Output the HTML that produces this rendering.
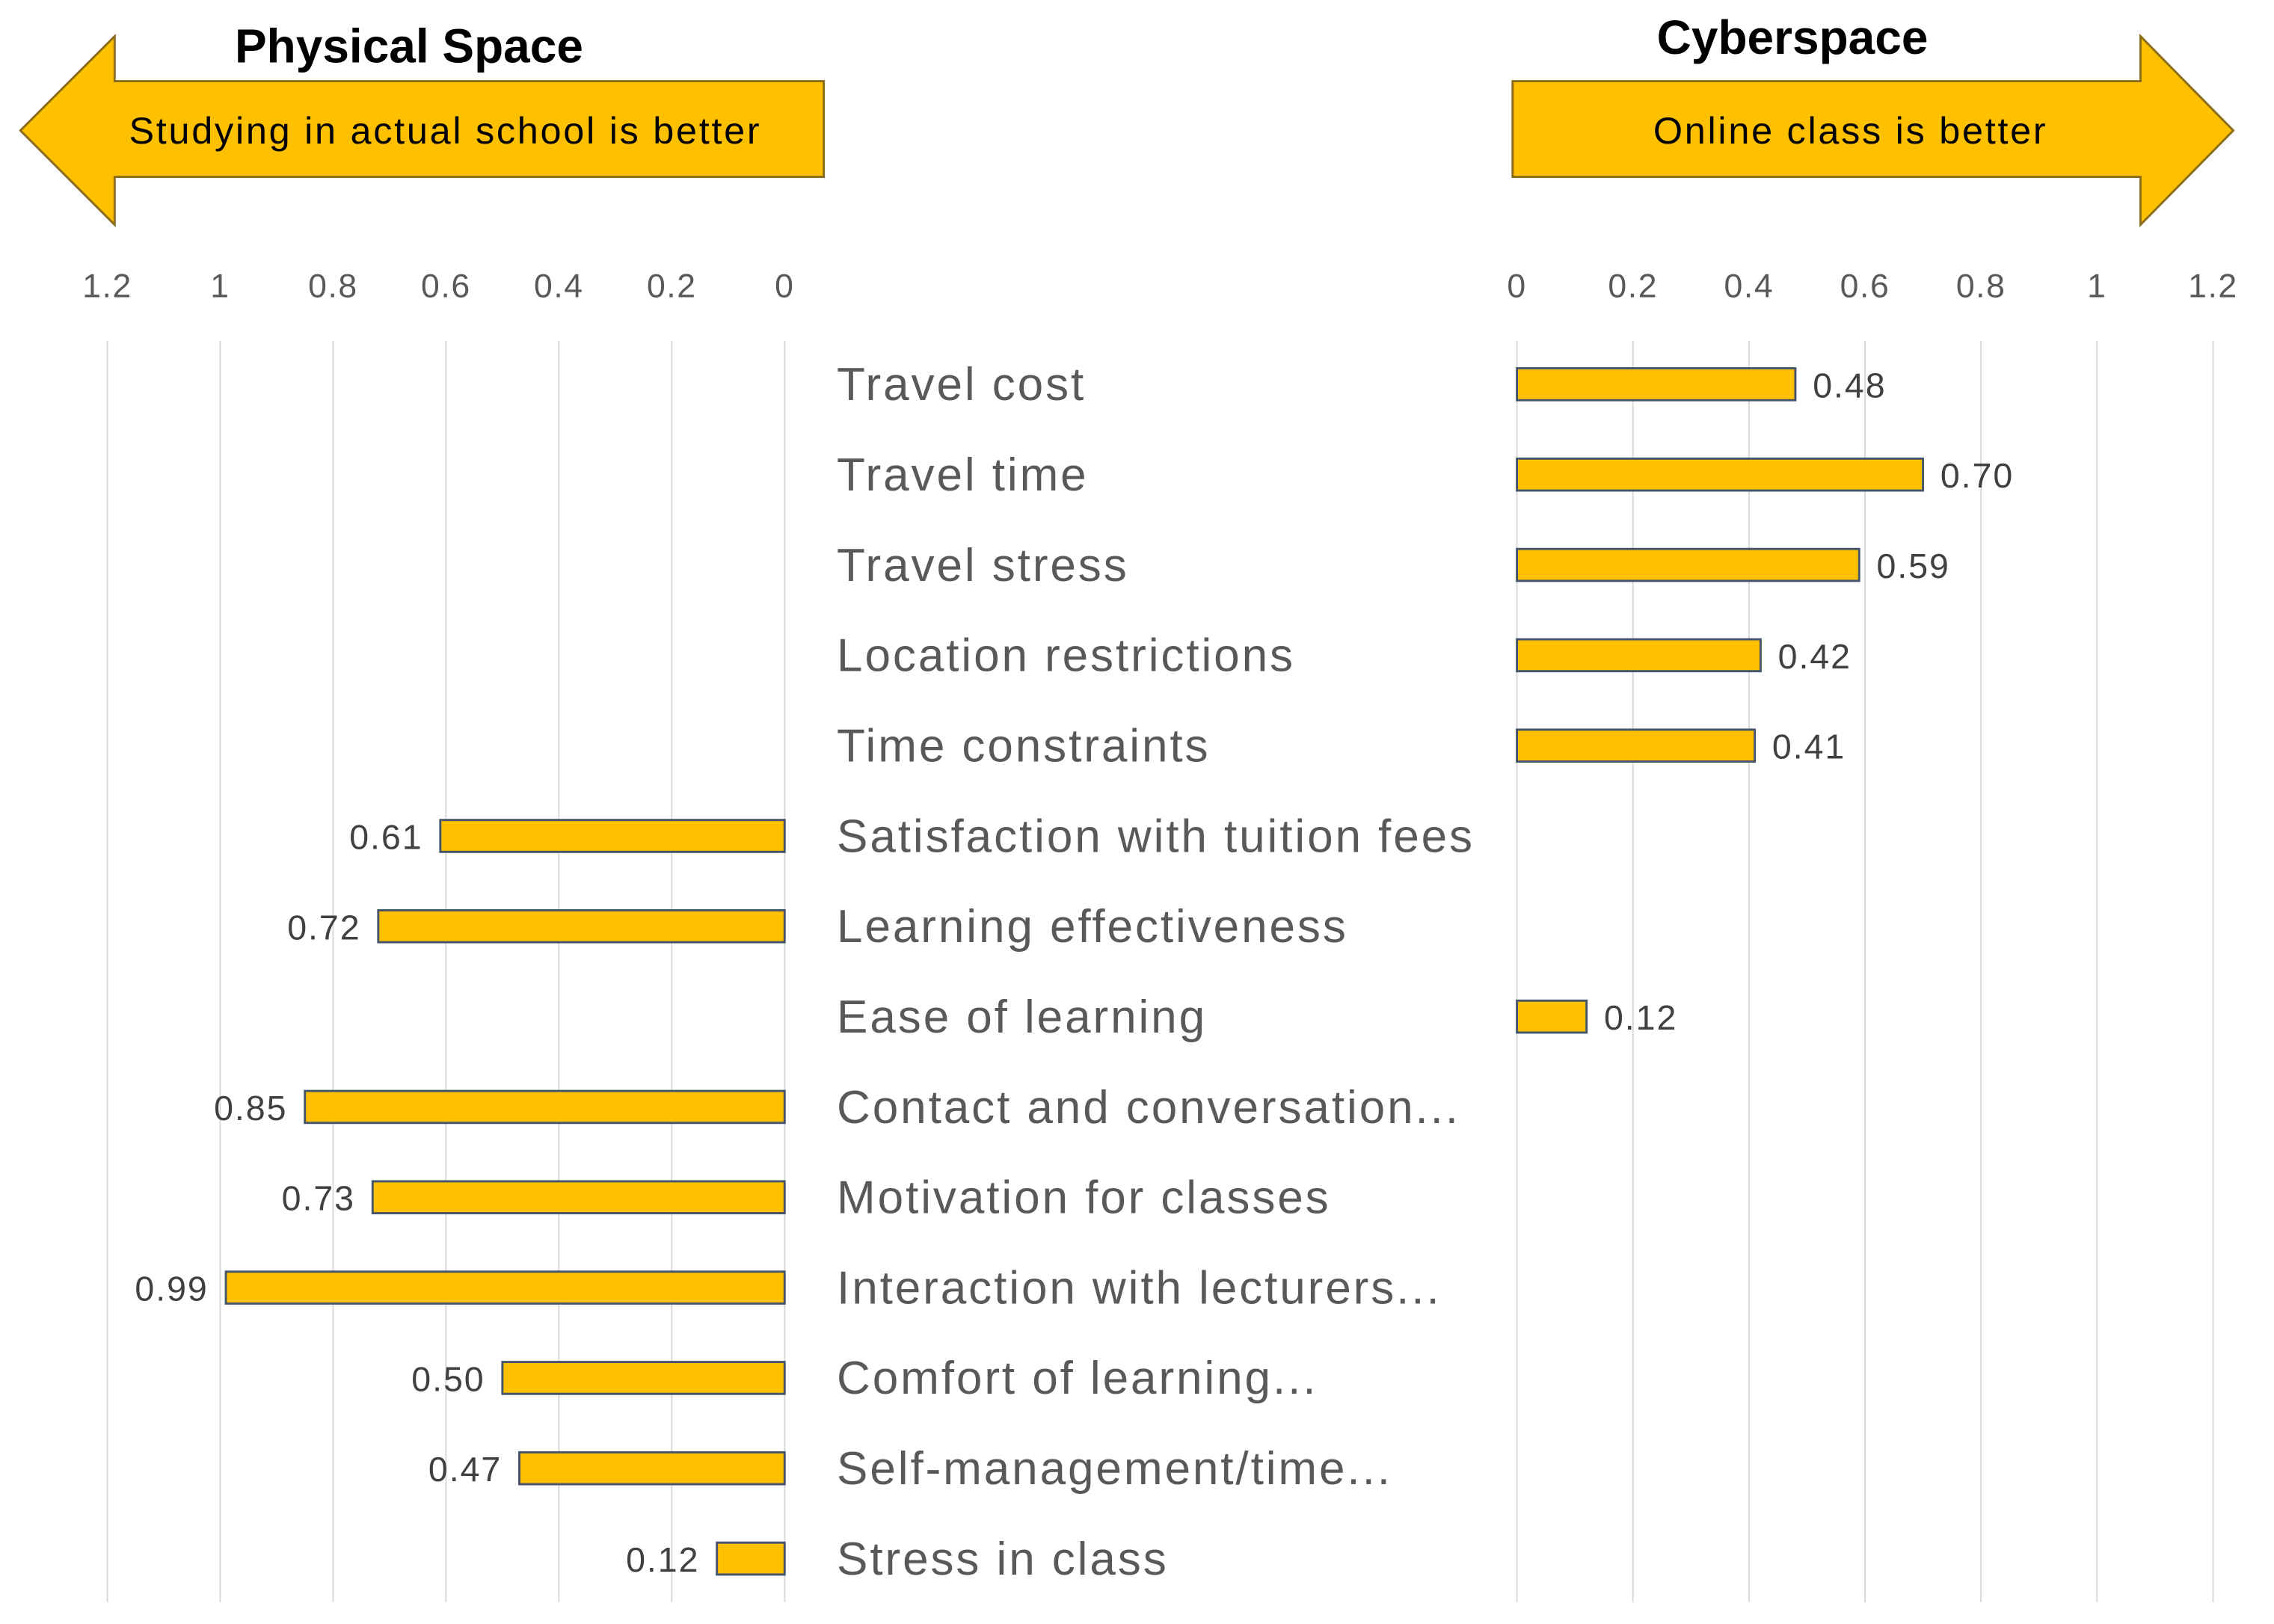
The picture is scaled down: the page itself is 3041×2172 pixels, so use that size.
<!DOCTYPE html>
<html><head><meta charset="utf-8"><style>
html,body{margin:0;padding:0;background:#fff}
svg{display:block}
text{font-family:"Liberation Sans",sans-serif}
</style></head><body>
<svg id="chart" width="3041" height="2172" viewBox="0 0 1568 1120" xmlns="http://www.w3.org/2000/svg">
<g>
<polygon points="14,90 79,25 79,56 568,56 568,122 79,122 79,155" fill="#FFC000" stroke="#8a6d1a" stroke-width="1.5"/>
<text x="282" y="43" text-anchor="middle" font-size="33" font-weight="bold" fill="#000">Physical Space</text>
<text x="307" y="99" text-anchor="middle" font-size="26" letter-spacing="1.4" fill="#000">Studying in actual school is better</text>
</g>
<g>
<polygon points="1043,56 1476,56 1476,25 1540,90 1476,155 1476,122 1043,122" fill="#FFC000" stroke="#8a6d1a" stroke-width="1.5"/>
<text x="1236" y="37" text-anchor="middle" font-size="33" font-weight="bold" fill="#000">Cyberspace</text>
<text x="1276" y="99" text-anchor="middle" font-size="26" letter-spacing="1.4" fill="#000">Online class is better</text>
</g>
<g id="grid"></g><g id="bars"></g><g id="labels"></g>
</svg>
<script>
const categories=["Travel cost","Travel time","Travel stress","Location restrictions","Time constraints","Satisfaction with tuition fees","Learning effectiveness","Ease of learning","Contact and conversation...","Motivation for classes","Interaction with lecturers...","Comfort of learning...","Self-management/time...","Stress in class"];
const physicalValues=[null,null,null,null,null,0.61,0.72,null,0.85,0.73,0.99,0.50,0.47,0.12];
const cyberValues=[0.48,0.70,0.59,0.42,0.41,null,null,0.12,null,null,null,null,null,null];
const ticks=[0,0.2,0.4,0.6,0.8,1,1.2];
const tickLabels=["0","0.2","0.4","0.6","0.8","1","1.2"];
const NS="http://www.w3.org/2000/svg";
const xL=v=>541-v*389.2, xR=v=>1046+v*400;
const yRow=i=>265+i*62.3;
function mk(tag,attrs,parent,txt){const e=document.createElementNS(NS,tag);for(const k in attrs)e.setAttribute(k,attrs[k]);if(txt!==undefined)e.textContent=txt;document.getElementById(parent).appendChild(e);return e;}
ticks.forEach((t,i)=>{
 [xL,xR].forEach((f,s)=>{
  const l=mk('line',{x1:f(t),x2:f(t),y1:235,y2:1105,stroke:'#d9d9d9','stroke-width':1},'grid');
  
  
  const tx=mk('text',{x:f(t),y:205,'text-anchor':'middle','font-size':23,'letter-spacing':0.8,fill:'#595959'},'grid',tickLabels[i]);
  
  
 });
});
categories.forEach((c,i)=>{
 const y=yRow(i);
 const t=mk('text',{x:577,y:y+11,'font-size':32,'letter-spacing':1.5,fill:'#595959'},'labels',c);
 
 
 const p=physicalValues[i];
 if(p!=null){
  const r=mk('rect',{x:xL(p),y:y-11,width:xL(0)-xL(p),height:22,fill:'#FFC000',stroke:'#44546A','stroke-width':1.5},'bars');
  
  
  const v=mk('text',{x:xL(p)-12,y:y+9,'text-anchor':'end','font-size':24,'letter-spacing':1,fill:'#404040'},'labels',p.toFixed(2));
  
  
 }
 const q=cyberValues[i];
 if(q!=null){
  const r=mk('rect',{x:xR(0),y:y-11,width:xR(q)-xR(0),height:22,fill:'#FFC000',stroke:'#44546A','stroke-width':1.5},'bars');
  
  
  const v=mk('text',{x:xR(q)+12,y:y+9,'font-size':24,'letter-spacing':1,fill:'#404040'},'labels',q.toFixed(2));
  
  
 }
});
</script>
</body></html>
